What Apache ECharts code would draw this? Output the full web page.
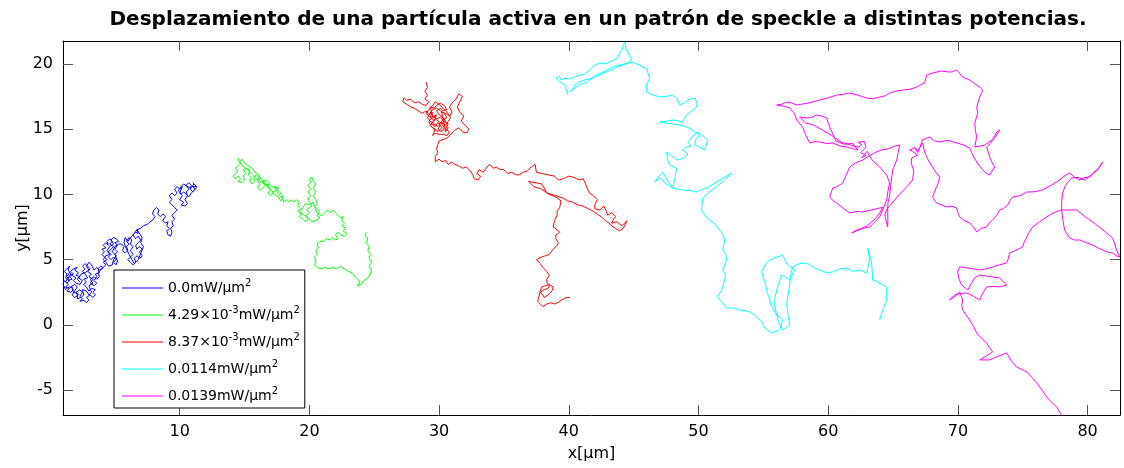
<!DOCTYPE html>
<html>
<head>
<meta charset="utf-8">
<script src="https://cdn.jsdelivr.net/npm/echarts@6/dist/echarts.min.js"></script>
<style>
  html, body { margin: 0; padding: 0; background: #fff; }
  #chart { width: 1124px; height: 468px; }
</style>
</head>
<body>
<div id="chart"></div>
<script>
// Particle tracks, positions in µm: [x, y]
const track0 = [
  [2.3,3.3],[2.1,3.5],[2.3,3.7],[2.0,3.8],[2.2,4.0],[1.9,4.2],[2.1,4.4],[1.8,4.3],[1.6,4.1],[1.8,3.9],
  [1.5,3.7],[1.7,3.5],[1.4,3.4],[1.2,3.6],[1.3,3.9],[1.1,4.1],[1.3,4.3],[1.5,4.5],[1.4,4.2],[1.6,3.9],
  [1.4,3.6],[1.2,3.3],[1.4,3.1],[1.2,2.9],[1.5,2.8],[1.3,2.6],[1.6,2.5],[1.8,2.7],[1.6,2.9],[1.9,3.1],
  [2.1,2.9],[1.9,2.6],[1.7,2.3],[1.9,2.1],[2.2,2.3],[2.0,2.5],[2.3,2.7],[2.5,2.5],[2.3,2.2],[2.5,2.0],
  [2.3,1.8],[2.6,1.9],[2.8,1.7],[3.0,1.9],[2.8,2.1],[3.1,2.3],[3.3,2.1],[3.5,2.3],[3.3,2.5],[3.5,2.7],
  [3.2,2.8],[3.0,2.6],[2.8,2.9],[2.6,3.1],[2.8,3.3],[2.6,3.5],[2.9,3.6],[2.7,3.9],[2.5,4.1],[2.7,4.3],
  [2.5,4.5],[2.7,4.7],[2.9,4.5],[3.1,4.3],[2.9,4.1],[3.2,3.9],[3.0,3.7],[3.3,3.5],[3.1,3.2],[3.4,3.0],
  [3.6,3.2],[3.4,3.4],[3.6,3.7],[3.5,3.9],[3.8,4.0],[3.7,4.3],[3.9,4.5],[4.1,4.4],
  [3.8,4.2],[3.6,4.4],[3.4,4.2],[3.2,4.6],[3.0,4.8],[2.8,4.5],[3.0,4.2],[2.7,4.0],[2.4,3.9],[2.2,3.6],
  [2.5,3.4],[2.3,3.1],[2.0,3.2],[1.8,3.4],[2.0,3.6],[1.7,3.8],[1.5,4.0],[1.3,3.7],[1.5,3.4],[1.3,3.2],
  [1.1,3.4],[1.0,3.1],[1.2,2.7],[1.4,2.9],[1.7,2.9],[1.8,2.5],[2.1,2.4],[2.1,2.0],[2.4,2.1],[2.6,2.3],
  [2.5,2.7],[2.8,2.6],[3.0,2.3],[3.2,2.5],[3.0,3.0],[3.3,3.2],[3.1,3.5],[3.4,3.7],[3.6,3.5],[3.8,3.7],
  [3.7,4.0],[3.9,4.2],[4.1,4.4],
  [4.3,4.6],[4.1,4.8],[4.4,5.0],[4.2,5.2],[4.0,5.4],[4.2,5.6],[4.0,5.8],[4.3,5.9],[4.1,6.1],[4.3,6.3],
  [4.5,6.1],[4.4,6.4],[4.6,6.6],[4.8,6.4],[4.6,6.2],[4.9,6.0],[4.7,5.8],[4.5,5.6],[4.7,5.4],[4.5,5.2],
  [4.7,5.0],[4.9,5.2],[5.1,5.0],[4.9,4.8],[5.1,4.6],[5.2,4.9],[5.0,5.4],[5.2,5.6],[5.0,5.8],[5.2,6.1],
  [5.0,6.3],[5.3,6.4],[5.1,6.6],[4.9,6.7],[4.7,6.5],[4.9,6.2],[4.6,6.0],[4.4,5.7],[4.6,5.4],[4.3,5.3],
  [4.1,5.0],[4.3,4.8],[4.5,4.5],[4.8,4.6],[4.9,5.0],[5.1,5.3],[4.8,5.6],[5.0,6.0],[5.3,6.2],
  [5.5,6.2],[5.7,6.0],[5.6,5.7],[5.8,5.5],[6.0,5.7],[5.9,6.0],[6.1,6.2],[5.9,6.4],[6.1,6.7],[6.3,6.5],
  [6.2,6.2],[6.4,6.0],[6.2,5.7],[6.4,5.4],[6.2,5.2],[6.0,5.0],[6.2,4.8],[6.4,4.6],[6.6,4.8],[6.5,5.1],
  [6.7,5.3],[6.9,5.1],[7.1,5.3],[6.9,5.6],[7.1,5.8],[6.9,6.0],[6.7,5.8],[6.6,6.1],[6.8,6.3],[7.0,6.5],
  [6.8,6.8],[6.6,6.6],[6.4,6.9],[6.6,7.1],[6.8,7.0],[6.7,7.3],
  [6.5,7.0],[6.3,6.8],[6.0,6.4],[5.8,6.7],[5.7,6.3],[5.9,5.8],[6.1,5.4],[6.3,5.0],[6.5,4.7],[6.8,5.0],
  [7.0,5.5],[7.2,6.0],[7.0,6.3],[7.1,6.7],[6.9,7.0],[6.7,7.3],
  [7.0,7.4],[7.2,7.6],[7.5,7.7],[7.7,7.9],[7.9,8.0],
  [8.1,8.3],[7.9,8.5],[8.0,8.8],[8.2,9.0],[8.4,8.8],[8.3,8.5],[8.5,8.3],[8.7,8.5],[8.9,8.3],[8.7,8.0],
  [8.9,7.8],[9.1,7.9],[9.0,7.6],[9.2,7.4],[9.0,7.2],[9.1,6.9],[9.3,6.8],[9.4,7.1],[9.3,7.4],[9.5,7.6],
  [9.4,7.9],[9.6,8.1],[9.4,8.4],[9.6,8.6],[9.8,8.8],[9.6,9.0],
  [9.4,9.2],[9.2,9.4],[9.4,9.6],[9.2,9.9],[9.4,10.1],[9.6,9.9],[9.8,10.1],[9.6,10.4],[9.8,10.6],[10.0,10.4],
  [10.2,10.6],[10.0,10.1],[10.2,9.9],[10.0,9.6],[10.3,9.4],[10.1,9.2],[10.4,9.1],[10.6,9.3],[10.4,9.6],[10.6,9.9],
  [10.5,10.2],[10.7,10.4],[10.5,10.7],[10.7,10.9],[10.9,10.7],[10.8,10.4],[11.0,10.2],[11.2,10.4],[11.0,10.6],[11.3,10.6],
  [11.1,10.8],[10.9,10.5],[10.6,10.6],[10.3,10.8],[10.1,10.6],[9.9,10.3],[10.1,10.0],[10.3,10.2],[10.5,10.0],[10.7,9.8],
  [10.9,10.1],[11.1,10.3],[11.3,10.5],[11.2,10.7],[11.0,10.9]
];

const track1 = [
  [14.6,12.8],[14.5,12.6],[14.7,12.4],[14.5,12.2],[14.3,12.0],[14.5,11.8],[14.3,11.6],[14.1,11.4],[14.3,11.2],[14.5,11.4],
  [14.7,11.2],[14.5,11.0],[14.8,10.9],[15.0,11.1],[14.9,11.4],[15.1,11.6],[14.9,11.9],[15.2,12.0],[15.4,11.8],[15.3,11.5],
  [15.5,11.3],[15.4,11.0],[15.6,10.8],[15.8,11.0],[15.7,11.3],[15.9,11.5],[16.1,11.3],[16.0,11.0],[16.2,10.8],[16.0,10.5],
  [16.2,10.3],[16.4,10.5],[16.6,10.7],[16.4,11.0],[16.7,11.1],[16.9,10.9],[16.8,10.6],[17.0,10.4],[16.8,10.1],[17.0,9.9],
  [17.2,10.1],[17.4,10.3],[17.3,10.6],[17.6,10.5],[17.5,10.2],[17.7,9.9],[17.9,9.7],[17.8,9.5],
  [17.6,9.8],[17.3,10.0],[17.1,10.3],[16.8,10.5],[16.6,10.9],[16.3,11.1],[16.1,11.5],[15.8,11.7],[15.6,12.0],[15.3,12.2],
  [15.0,12.4],[14.8,12.7],[14.6,12.5],[14.8,12.2],[15.1,12.0],[15.4,11.7],[15.6,11.5],[15.9,11.2],[16.2,11.0],[16.5,10.8],
  [16.8,10.7],[17.1,10.6],[17.4,10.5],[17.7,10.2],[17.9,9.9],[18.0,9.6],
  [18.0,9.4],[18.2,9.6],[18.4,9.4],[18.6,9.6],[18.8,9.4],[19.0,9.6],[19.2,9.4],[19.1,9.1],
  [19.3,8.9],[19.1,8.7],[19.4,8.5],[19.2,8.3],[19.5,8.1],[19.7,7.9],[19.9,8.1],[19.8,8.4],[20.0,8.6],[19.8,8.8],
  [20.0,9.0],[20.2,9.2],[20.0,9.4],[19.9,9.7],[20.1,9.9],[19.9,10.2],[20.1,10.4],[19.9,10.7],[20.1,10.9],[20.0,11.2],
  [20.2,11.3],[20.3,11.0],[20.5,10.8],[20.3,10.5],[20.5,10.2],[20.3,9.9],[20.5,9.6],[20.6,9.3],[20.4,9.1],[20.6,8.9],
  [20.8,8.7],[20.6,8.4],[20.8,8.2],[20.5,8.0],[20.2,7.9],[19.9,8.2],[19.6,8.4],[19.3,8.6],[19.5,9.0],[19.7,9.3],
  [20.0,9.2],[20.3,9.4],[20.4,9.0],[20.6,8.6],[20.8,8.4],[21.0,8.4],
  [21.2,8.6],[21.4,8.8],[21.6,8.6],[21.8,8.8],[22.0,8.6],[22.2,8.4],[22.4,8.2],[22.6,8.3],[22.5,8.0],[22.7,7.8],
  [22.5,7.6],[22.8,7.4],[22.6,7.2],[22.9,7.0],[22.7,6.8],[22.4,6.9],[22.2,7.1],[22.0,6.9],[22.2,6.6],[22.0,6.5],
  [21.8,6.7],[21.6,6.5],[21.3,6.6],[21.1,6.4],[20.8,6.4],[20.6,6.2],[20.7,5.9],[20.5,5.7],[20.6,5.4],[20.4,5.2],
  [20.5,4.9],[20.4,4.6],[20.6,4.4],[20.9,4.3],[21.2,4.4],[21.5,4.3],[21.8,4.4],[22.1,4.3],[22.4,4.5],[22.7,4.3],
  [23.0,4.1],[23.3,4.0],[23.5,3.7],[23.7,3.5],[23.9,3.3],[23.7,3.0],[24.0,3.1],[24.2,3.4],[24.5,3.6],[24.7,3.9],
  [24.8,4.2],[24.6,4.5],[24.8,4.8],[24.6,5.1],[24.7,5.4],[24.5,5.7],[24.6,6.0],[24.4,6.3],[24.5,6.6],[24.3,6.9],[24.4,7.1]
];

const track2 = [
  [29.0,18.6],[29.1,18.2],[28.9,17.9],[29.1,17.6],[28.9,17.3],[29.2,17.1],[29.0,16.8],[28.7,16.9],[28.4,17.1],[28.1,17.0],
  [27.8,17.3],[27.5,17.2],[27.3,17.4],[27.2,17.1],[27.5,16.9],[27.8,16.7],[28.1,16.6],[28.4,16.4],[28.7,16.2],[29.0,16.4],
  [29.2,16.1],[29.5,16.3],[29.3,15.9],[29.6,15.7],[29.4,15.4],[29.7,15.2],[29.9,15.5],[30.1,15.3],[29.9,15.0],[30.2,14.8],
  [30.4,15.1],[30.2,15.4],[30.5,15.6],[30.3,15.9],[30.0,16.1],[29.8,16.4],[30.1,16.6],[30.3,16.4],[30.6,16.5],[30.4,16.8],
  [30.1,17.0],[29.8,16.8],[29.6,16.6],[29.3,16.7],[29.5,16.0],[29.8,15.8],[30.1,15.9],[30.4,15.6],[30.7,15.4],[30.5,15.0],
  [30.8,14.8],[30.6,14.5],[30.3,14.6],[30.0,14.6],[29.7,14.7],[29.5,14.5],[29.7,15.0],[29.4,15.2],[29.2,15.6],[29.5,15.9],
  [29.8,16.1],[29.6,15.6],[29.3,15.3],[29.6,15.0],[29.9,14.8],[30.2,15.1],[30.0,15.4],[30.3,15.7],[30.6,15.9],[30.4,16.2],
  [30.1,16.4],[29.8,16.6],[29.5,16.5],[29.3,16.2],[29.1,15.9],[29.3,15.6],[29.6,15.4],[29.9,15.2],[30.2,15.5],[30.5,15.3],
  [30.7,15.6],[30.9,15.9],[30.6,16.3],[30.3,16.6],[30.0,16.9],[29.7,17.1],[29.5,16.8],[29.2,16.5],[29.0,16.2],[29.3,15.9],
  [29.6,16.0],[29.8,15.7],[30.1,15.5],[30.4,15.4],[30.7,15.1],[30.5,14.8],
  [30.2,16.3],[30.5,16.2],[30.8,16.0],[31.0,16.3],[30.8,16.7],[31.0,17.0],[31.3,17.3],[31.5,17.7],[31.8,17.5],
  [31.6,17.1],[31.4,16.7],[31.6,16.3],[31.9,16.0],[31.7,15.6],[32.0,15.3],[32.3,15.0],[32.1,14.7],[31.8,14.8],[31.5,15.1],
  [31.2,14.9],[30.9,14.6],[30.6,14.3],[30.3,14.2],[30.0,14.1],[29.9,13.8],[29.8,13.5],[29.9,13.2],[29.7,12.9],[29.7,12.5],
  [30.0,12.7],[30.2,12.5],[30.5,12.6],[30.7,12.3],[31.0,12.5],[31.2,12.3],[31.5,12.2],[31.8,12.0],[32.1,12.1],[32.4,11.8],
  [32.6,11.5],[32.7,11.2],[33.0,11.1],[33.2,11.4],[32.9,11.6],[33.1,11.9],[33.4,11.7],[33.7,12.1],[33.9,12.3],[34.2,12.0],
  [34.4,12.1],[34.7,11.9],[35.0,11.9],[35.3,11.6],[35.6,11.7],[35.9,11.5],[36.2,11.5],[36.5,11.7],[36.8,11.8],[37.1,12.1],
  [37.4,12.3],[37.5,11.7],[37.9,11.6],[38.4,11.5],[38.9,11.4],[39.2,11.1],[39.6,11.2],[40.0,11.4],[40.4,11.3],[40.8,11.1],
  [41.1,11.2],[41.3,10.8],[41.4,10.5],[41.6,10.1],[41.9,9.9],[42.2,9.6],[42.0,9.2],[42.0,8.9],[42.4,8.8],[42.7,9.1],
  [42.9,8.7],[43.0,8.4],[43.3,8.6],[43.6,8.3],[43.4,8.0],[43.3,7.8],[43.7,7.9],[44.1,7.6],[44.3,7.8],[44.5,8.0],
  [44.2,7.4],[43.9,7.2],[43.6,7.4],[43.4,7.5],[43.1,7.8],[42.8,8.0],[42.5,8.3],[42.3,8.4],[41.9,8.7],[41.5,8.9],
  [41.1,9.1],[40.7,9.2],[40.3,9.4],[39.9,9.5],[39.6,9.7],[39.0,9.9],[38.3,10.1],[38.1,10.5],[37.9,10.8],[37.4,10.9],
  [36.9,11.0],[37.3,10.6],[37.9,10.4],[38.5,10.0],[39.0,9.8],[39.4,9.5],[39.3,9.0],[39.1,8.7],[39.1,8.4],[38.9,8.0],
  [38.8,7.5],[39.1,7.3],[39.3,7.1],[39.0,6.9],[39.0,6.6],[39.2,6.3],[39.1,6.1],[38.8,5.8],[38.5,5.4],[38.2,5.3],
  [37.9,5.2],[37.5,5.0],[37.8,4.7],[38.0,4.4],[38.3,4.1],[38.5,3.8],[38.3,3.5],[38.3,3.3],[38.5,3.0],[38.4,2.8],
  [38.1,2.7],[37.8,2.5],[38.0,2.3],[38.1,2.1],[38.4,2.3],[38.7,2.6],[38.8,2.9],[38.5,3.1],[38.2,3.0],[37.9,2.9],
  [37.8,2.6],[37.7,2.2],[37.6,1.8],[37.8,1.6],[38.0,1.4],[38.3,1.6],[38.6,1.7],[38.9,1.6],[39.3,1.8],[39.6,2.0],
  [39.8,2.1],[40.1,2.1]
];

const track3 = [
  [39.91,17.69],[39.8,18.0],[39.76,18.30],[39.5,18.5],[39.30,18.61],[38.99,18.91],[39.22,19.07],[39.45,18.76],[39.7,18.9],[40.07,18.84],
  [40.5,19.0],[40.84,19.14],[41.2,19.2],[41.61,19.53],[42.0,19.9],[42.38,20.06],[42.8,20.0],[43.15,20.14],[43.5,20.3],[43.77,20.44],
  [43.9,20.8],[44.08,21.06],[44.31,21.67],[44.4,21.2],[44.54,20.90],[44.85,20.29],[44.4,20.0],[43.92,19.83],[43.2,19.5],[42.38,19.14],
  [41.8,18.9],[41.20,18.76],[40.8,18.6],[40.45,18.38],[40.3,18.0],[40.07,17.84],[40.4,18.1],[40.84,18.38],[41.4,18.6],[42.00,19.07],
  [42.7,19.4],[43.54,19.83],[44.2,19.95],[44.85,20.14],[45.2,20.0],[45.47,19.91],[45.8,19.7],[46.01,19.68],[46.1,19.3],[46.24,18.91],
  [46.0,18.4],[46.01,17.84],[46.5,17.6],[47.01,17.46],[47.5,17.5],[48.01,17.61],[48.32,17.38],[48.55,16.85],[48.9,17.0],[49.17,17.23],
  [49.71,17.38],[49.9,17.0],[49.86,16.69],[49.5,16.4],[49.09,16.08],[48.9,15.8],[48.78,15.54],[48.4,15.65],[48.01,15.70],[47.5,15.6],
  [47.01,15.54],[47.39,15.47],[48.0,15.4],[48.55,15.31],[48.9,15.2],[49.32,15.08],[49.7,14.8],[50.09,14.55],[49.8,14.2],[49.71,13.78],
  [50.1,13.6],[50.48,13.40],[50.71,14.17],[50.3,14.5],[49.94,14.78],[49.5,14.4],[49.17,14.01],[49.4,13.7],[49.0,13.6],[48.78,13.40],
  [49.2,13.1],[48.9,12.8],[48.40,12.63],[48.0,12.9],[47.55,13.25],[47.6,12.7],[47.78,12.25],[48.32,12.02],[48.2,11.3],[48.01,10.49],
  [47.6,11.1],[47.24,11.72],[46.9,11.3],[46.62,10.95],[47.01,11.26],[47.5,10.8],[48.01,10.49],[48.4,10.4],[48.78,10.34],[49.3,10.3],
  [49.86,10.18],[50.2,10.35],[50.63,10.49],[51.0,10.7],[51.40,10.95],[52.0,11.3],[52.56,11.64],[52.02,11.10],[51.4,10.6],[50.86,10.18],
  [50.32,9.72],[50.24,8.81],[50.5,8.4],[50.86,8.04],[51.3,7.7],[51.63,7.27],[51.9,6.9],[52.02,6.51],[51.87,5.74],[52.1,5.4],
  [52.17,4.98],[51.87,4.21],[52.1,3.8],[52.02,3.45],[51.79,2.68],[51.48,2.14],[51.87,1.68],[52.17,1.30],[52.7,1.3],[53.18,1.15],
  [53.6,1.1],[53.95,1.00],[54.3,0.8],[54.57,0.54],[54.9,0.2],[55.10,-0.23],[55.64,-0.61],[56.26,-0.38],[56.49,0.38],[56.1,0.7],
  [55.87,1.00],[55.6,1.5],[55.49,1.91],[55.3,2.5],[55.18,3.06],[55.0,3.6],[54.87,4.06],[55.26,4.82],[55.87,5.13],[56.49,5.36],
  [56.7,4.9],[56.88,4.59],[57.42,4.21],[57.03,3.45],[56.41,3.83],[56.2,3.2],[56.03,2.68],[55.9,2.1],[55.87,1.53],[56.0,0.9],
  [56.11,0.38],[56.49,-0.38],[57.03,0.00],[56.9,0.8],[56.80,1.53],[56.9,2.3],[57.03,3.06],[57.1,3.8],[57.26,4.44],[57.8,4.7],
  [58.35,4.75],[58.9,4.4],[59.35,4.21],[59.9,4.0],[60.35,4.06],[60.9,4.3],[61.43,4.36],[61.9,4.1],[62.43,4.21],[62.97,3.98],
  [63.20,4.98],[63.04,5.90],[63.35,4.82],[63.43,3.45],[64.0,3.2],[64.51,2.91],[64.51,1.91],[64.20,1.15],[63.97,0.38]
];

const track4 = [
  [66.67,13.55],[66.9,13.2],[67.1,13.7],[67.28,14.17],[67.82,14.40],[68.2,14.1],[68.59,14.01],[69.2,14.15],[69.91,13.94],[70.4,13.8],
  [70.91,13.55],[71.14,13.02],[71.5,12.4],[71.92,11.87],[72.2,11.6],[72.45,11.49],[72.84,12.10],[72.6,12.5],[72.45,12.86],[72.22,13.63],
  [72.5,13.9],[72.68,14.17],[72.99,14.78],[73.22,14.93],[72.84,14.32],[72.5,14.1],[72.07,13.78],[71.7,13.7],[71.30,13.63],[71.45,14.40],
  [71.35,14.9],[71.30,15.47],[71.53,16.23],[71.45,16.69],[71.69,17.46],[71.92,17.99],[71.7,18.2],[71.45,18.38],[70.91,18.76],[70.37,18.99],
  [70.1,19.3],[69.91,19.53],[69.6,19.4],[69.36,19.37],[68.7,19.45],[68.05,19.30],[67.59,19.14],[67.44,18.53],[67.1,18.4],[66.82,18.22],
  [66.3,18.05],[65.74,17.99],[65.2,17.9],[64.74,17.76],[64.4,17.55],[63.97,17.46],[63.5,17.32],[62.97,17.38],[62.3,17.6],[61.66,17.76],
  [61.1,17.65],[60.66,17.61],[60.0,17.4],[59.35,17.23],[58.5,17.0],[57.57,16.85],[57.2,17.0],[56.80,17.08],[56.4,16.9],[56.03,16.85],
  [56.6,16.75],[57.03,16.62],[57.4,16.2],[57.57,15.70],[58.03,15.16],[58.3,14.5],[58.57,13.94],[59.0,14.05],[59.35,14.01],[59.9,13.9],
  [60.35,13.94],[60.9,13.7],[61.43,13.63],[61.9,13.5],[62.28,13.40],[61.9,13.9],[61.2,13.85],[60.6,14.1],[60.12,15.16],[59.89,15.85],
  [59.5,16.0],[59.12,16.08],[58.7,15.9],[58.35,15.85],[57.80,15.93],[58.2,15.5],[58.9,15.3],[59.6,14.9],[60.3,14.5],[61.0,14.0],
  [61.7,13.8],[62.3,13.6],[62.6,13.8],[62.3,14.0],[62.8,14.05],[62.9,13.6],[62.5,13.2],[62.9,13.0],[62.6,12.8],[63.0,13.3],
  [63.2,12.9],[63.5,12.5],[63.97,12.10],[64.51,11.49],[64.74,10.87],[64.6,10.2],[64.51,9.57],[64.20,8.81],[63.97,8.27],[63.6,7.9],
  [63.20,7.50],[62.7,7.4],[62.20,7.27],[61.81,7.04],[62.3,7.25],[63.0,7.6],[63.6,8.1],[64.0,8.6],[64.2,9.0],[63.97,8.96],
  [63.3,8.8],[62.66,8.65],[62.2,8.7],[61.66,8.58],[61.2,8.9],[60.66,9.34],[60.4,9.5],[60.12,9.80],[60.35,10.49],[60.7,10.6],
  [61.12,10.87],[61.4,11.5],[61.66,12.10],[62.1,12.4],[62.66,12.63],[63.1,12.9],[63.6,13.2],[64.1,13.4],[64.7,13.5],[65.1,13.7],
  [65.51,13.78],[65.4,13.2],[65.28,12.63],[64.97,11.87],[64.85,10.9],[64.74,9.95],[64.6,9.3],[64.59,8.81],[64.6,8.1],[64.59,7.50],
  [64.36,8.42],[64.55,8.9],[65.13,9.57],[65.5,10.0],[66.05,10.57],[66.51,11.10],[66.6,11.8],[66.4,12.4],[66.44,12.79],[66.9,13.02],
  [66.5,13.3],[66.28,13.40],[66.7,13.6],[66.9,13.3],[67.28,13.94],[67.4,13.4],[67.59,12.86],[67.8,12.5],[68.05,12.10],[68.3,11.7],
  [68.59,11.33],[68.5,10.9],[68.36,10.57],[68.2,10.2],[68.05,9.80],[68.36,9.34],[68.7,9.2],[69.13,9.04],[69.5,9.1],[69.91,8.96],
  [70.0,8.6],[70.14,8.27],[70.5,8.0],[70.91,7.81],[71.2,7.5],[71.45,7.12],[71.8,7.4],[72.22,7.50],[72.4,7.8],[72.68,8.04],
  [73.0,8.4],[73.22,8.81],[73.5,8.9],[73.84,9.19],[74.0,9.5],[74.22,9.80],[74.8,9.9],[75.31,10.18],[75.9,10.2],[76.54,10.34],
  [77.2,10.7],[77.85,11.10],[78.2,11.4],[78.62,11.64],[79.0,11.3],[79.39,11.10],[79.8,11.3],[80.16,11.33],[80.5,11.7],[80.93,12.10],
  [81.16,12.48],[80.78,11.87],[80.3,11.5],[79.78,11.10],[79.3,11.3],[78.77,11.26],[78.3,10.7],[78.08,10.11],[78.0,9.4],[78.00,8.81],
  [78.1,8.0],[78.23,7.27],[78.62,6.66],[79.0,6.5],[79.39,6.51],[79.9,6.3],[80.39,6.13],[80.8,5.9],[81.16,5.74],[81.5,5.6],
  [81.93,5.51],[82.2,5.3],[82.47,5.21],[82.24,5.74],[82.1,6.2],[81.93,6.66],[81.47,7.04],[80.9,7.5],[80.39,7.89],[79.8,8.3],
  [79.16,8.81],[78.6,8.8],[78.00,8.81],[77.4,8.6],[76.85,8.27],[76.3,7.9],[75.77,7.50],[75.5,7.1],[75.31,6.74],[75.1,6.3],
  [75.00,5.97],[74.53,5.74],[73.99,5.51],[73.9,5.1],[73.76,4.75],[73.2,4.6],[72.68,4.44],[72.2,4.3],[71.69,4.21],[71.2,4.3],
  [70.68,4.36],[70.14,4.44],[69.98,4.06],[70.1,3.5],[70.29,3.06],[70.76,2.68],[71.06,3.22],[71.3,3.6],[71.69,3.83],[72.5,3.7],
  [73.22,3.60],[73.76,3.06],[73.22,2.91],[72.7,2.95],[72.22,2.91],[71.9,2.4],[71.69,1.91],[71.2,2.2],[70.68,2.45],[70.2,2.4],
  [69.75,2.30],[69.36,1.91],[69.8,2.2],[70.14,2.53],[70.37,1.91],[70.3,1.5],[70.37,1.15],[70.6,0.8],[70.91,0.38],[71.2,-0.1],
  [71.45,-0.61],[71.8,-1.0],[72.22,-1.38],[72.4,-1.7],[72.68,-2.07],[72.07,-2.45],[71.69,-2.68],[72.45,-2.68],[73.1,-2.4],[73.76,-2.14],
  [74.1,-2.7],[74.53,-3.22],[75.31,-3.60],[75.7,-4.0],[76.08,-4.44],[76.5,-5.0],[76.85,-5.51],[77.2,-5.9],[77.62,-6.28],[78.08,-7.04],
  [78.31,-7.43]
];

const tracks = [track0, track1, track2, track3, track4];
const trackNames = ['p0', 'p1', 'p2', 'p3', 'p4'];
const trackColors = ['#0000ff', '#00ff00', '#ff0000', '#00ffff', '#ff00ff'];
// Power labels, rich-text markup for the superscripts
const powerLabels = [
  '{n|0.0mW/μm}{s|2}',
  '{n|4.29×10}{s|-3}{n|mW/μm}{s|2}',
  '{n|8.37×10}{s|-3}{n|mW/μm}{s|2}',
  '{n|0.0114mW/μm}{s|2}',
  '{n|0.0139mW/μm}{s|2}'
];
const xTicks = [10, 20, 30, 40, 50, 60, 70, 80];
const yTicks = [-5, 0, 5, 10, 15, 20];

const FONT = '"DejaVu Sans", Verdana, sans-serif';
const X_MIN = 1, X_MAX = 82.5, Y_MIN = -6.9, Y_MAX = 21.75;

function xAxisCfg(pos, labels) {
  return {
    type: 'value', position: pos, min: X_MIN, max: X_MAX,
    name: labels ? 'x[μm]' : '', nameLocation: 'middle', nameGap: 31,
    nameTextStyle: { fontFamily: FONT, fontSize: 16, color: '#000' },
    axisLine: { show: true, onZero: false, lineStyle: { color: '#000', width: 1 } },
    axisTick: { show: true, inside: true, length: 10, customValues: xTicks, lineStyle: { color: '#555' } },
    axisLabel: { show: labels, customValues: xTicks, margin: 9, fontFamily: FONT, fontSize: 16, color: '#000' },
    splitLine: { show: false }
  };
}
function yAxisCfg(pos, labels) {
  return {
    type: 'value', position: pos, min: Y_MIN, max: Y_MAX,
    name: labels ? 'y[μm]' : '', nameLocation: 'middle', nameGap: 32, nameMoveOverlap: false,
    nameTextStyle: { fontFamily: FONT, fontSize: 16, color: '#000' },
    axisLine: { show: true, onZero: false, lineStyle: { color: '#000', width: 1 } },
    axisTick: { show: true, inside: true, length: 10, customValues: yTicks, lineStyle: { color: '#555' } },
    axisLabel: { show: labels, customValues: yTicks, margin: 10, fontFamily: FONT, fontSize: 16, color: '#000' },
    splitLine: { show: false }
  };
}

const chart = echarts.init(document.getElementById('chart'), null, { renderer: 'canvas' });
chart.setOption({
  animation: false,
  backgroundColor: '#fff',
  title: {
    text: 'Desplazamiento de una partícula activa en un patrón de speckle a distintas potencias.',
    left: 593, textAlign: 'center', top: 5,
    textStyle: { fontFamily: FONT, fontSize: 20, fontWeight: 'bold', color: '#000' }
  },
  grid: { left: 63, right: 4, top: 41, bottom: 53, containLabel: false },
  xAxis: [xAxisCfg('bottom', true), xAxisCfg('top', false)],
  yAxis: [yAxisCfg('left', true), yAxisCfg('right', false)],
  legend: {
    orient: 'vertical', left: 114, top: 270,
    backgroundColor: '#fff', borderColor: '#000', borderWidth: 1, borderRadius: 0,
    padding: [8, 5, 5, 8], itemGap: 10, itemWidth: 41, itemHeight: 1,
    icon: 'rect',
    data: trackNames,
    formatter: name => powerLabels[trackNames.indexOf(name)],
    textStyle: {
      fontFamily: FONT, color: '#000',
      rich: {
        n: { fontFamily: FONT, fontSize: 14, lineHeight: 20, color: '#000' },
        s: { fontFamily: FONT, fontSize: 10, lineHeight: 12, verticalAlign: 'top', color: '#000' }
      }
    }
  },
  series: tracks.map((t, i) => ({
    name: trackNames[i], type: 'line', data: t,
    xAxisIndex: 0, yAxisIndex: 0,
    symbol: 'none', showSymbol: false, clip: true,
    color: trackColors[i],
    lineStyle: { color: trackColors[i], width: 1 },
    emphasis: { disabled: true }
  }))
});
</script>
</body>
</html>
